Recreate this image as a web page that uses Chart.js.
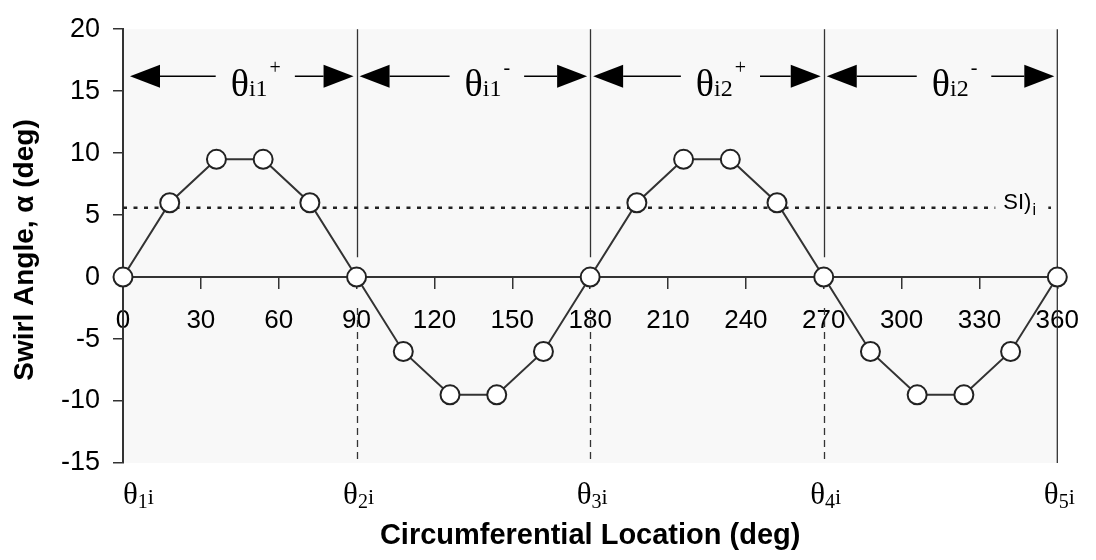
<!DOCTYPE html>
<html>
<head>
<meta charset="utf-8">
<script src="https://cdn.jsdelivr.net/npm/chart.js@4.4.1/dist/chart.umd.min.js"></script>
<style>
  html, body { margin: 0; padding: 0; background: #fff; }
  #wrap { width: 1096px; height: 560px; }
</style>
</head>
<body>
<div id="wrap"><canvas id="swirlChart" width="1096" height="560"></canvas></div>
<script>
// measured swirl profile
const locations = [0, 18, 36, 54, 72, 90, 108, 126, 144, 162, 180, 198, 216, 234, 252, 270, 288, 306, 324, 342, 360];
const swirlAngles = [0, 6, 9.5, 9.5, 6, 0, -6, -9.5, -9.5, -6, 0, 6, 9.5, 9.5, 6, 0, -6, -9.5, -9.5, -6, 0];

const xTickValues = [0, 30, 60, 90, 120, 150, 180, 210, 240, 270, 300, 330, 360];
const yTickValues = [-15, -10, -5, 0, 5, 10, 15, 20];

// sector annotations
const sectorEdges = [0, 90, 180, 270, 360];
const sectorSubs = ['i1', 'i1', 'i2', 'i2'];
const sectorSigns = ['+', '-', '+', '-'];
const edgeSubs = ['1', '2', '3', '4', '5'];
const siLevel = 5.6;
const arrowLevel = 16.2;

const SANS = '"Liberation Sans", Arial, sans-serif';
const SERIF = '"Liberation Serif", "Times New Roman", serif';
const INK = '#333';

function arrowHead(ctx, tipX, y, dir) {
    ctx.beginPath();
    ctx.moveTo(tipX, y);
    ctx.lineTo(tipX - dir * 30, y - 11.5);
    ctx.lineTo(tipX - dir * 30, y + 11.5);
    ctx.closePath();
    ctx.fill();
}

const annotations = {
    id: 'annotations',
    beforeDraw(chart) {
        const { ctx, chartArea: a } = chart;
        ctx.save();
        ctx.fillStyle = '#f8f8f8';
        ctx.fillRect(a.left, a.top, a.right - a.left, a.bottom - a.top);
        ctx.restore();
    },
    beforeDatasetsDraw(chart) {
        const { ctx, chartArea: a, scales: { x, y } } = chart;
        ctx.save();
        ctx.strokeStyle = INK;
        ctx.lineWidth = 1.3;
        // sector dividers: solid above the axis, dashed below
        sectorEdges.slice(1, -1).forEach(v => {
            const px = Math.round(x.getPixelForValue(v)) + 0.5;
            ctx.setLineDash([]);
            ctx.beginPath();
            ctx.moveTo(px, a.top);
            ctx.lineTo(px, y.getPixelForValue(1.6));
            ctx.stroke();
            ctx.setLineDash([7, 5]);
            ctx.beginPath();
            ctx.moveTo(px, y.getPixelForValue(-2.5));
            ctx.lineTo(px, a.bottom);
            ctx.stroke();
        });
        ctx.setLineDash([]);
        ctx.beginPath();
        ctx.moveTo(a.right, a.top);
        ctx.lineTo(a.right, a.bottom);
        ctx.stroke();

        // SI level
        const sy = y.getPixelForValue(siLevel);
        ctx.lineWidth = 2.5;
        ctx.strokeStyle = '#222';
        ctx.setLineDash([4, 6.5]);
        ctx.beginPath();
        ctx.moveTo(a.left, sy);
        ctx.lineTo(a.right - 2, sy);
        ctx.stroke();
        ctx.setLineDash([]);
        ctx.fillStyle = '#f8f8f8';
        ctx.fillRect(a.right - 62, sy - 20, 53, 30);
        ctx.fillStyle = '#000';
        ctx.font = '22px ' + SANS;
        ctx.textBaseline = 'alphabetic';
        ctx.textAlign = 'left';
        const sx = a.right - 54;
        ctx.fillText('SI)', sx, sy + 1);
        const w = ctx.measureText('SI)').width;
        ctx.font = '16px ' + SANS;
        ctx.fillText('i', sx + w + 1, sy + 7);
        ctx.restore();
    },
    afterDraw(chart) {
        const { ctx, chartArea: a, scales: { x, y } } = chart;
        ctx.save();
        ctx.fillStyle = '#000';
        ctx.strokeStyle = '#000';
        ctx.lineWidth = 1.5;
        ctx.textBaseline = 'alphabetic';
        ctx.textAlign = 'left';

        // sector arrows with theta labels
        const ay = y.getPixelForValue(arrowLevel);
        for (let i = 0; i < sectorSubs.length; i++) {
            const x1 = x.getPixelForValue(sectorEdges[i]) + (i === 0 ? 7 : 3);
            const x2 = x.getPixelForValue(sectorEdges[i + 1]) - 3;
            ctx.font = '38px ' + SERIF;
            const wT = ctx.measureText('\u03B8').width;
            ctx.font = '24px ' + SERIF;
            const wS = ctx.measureText(sectorSubs[i]).width;
            ctx.font = '20px ' + SERIF;
            const wP = ctx.measureText(sectorSigns[i]).width;
            const total = wT + wS + 2 + wP;
            const cx = (x1 + x2) / 2 + 14;
            const tx = cx - total / 2;

            arrowHead(ctx, x1, ay, -1);
            arrowHead(ctx, x2, ay, 1);
            ctx.beginPath();
            ctx.moveTo(x1 + 30, ay);
            ctx.lineTo(tx - 15, ay);
            ctx.moveTo(tx + total + 14, ay);
            ctx.lineTo(x2 - 30, ay);
            ctx.stroke();

            const base = ay + 20;
            ctx.font = '38px ' + SERIF;
            ctx.fillText('\u03B8', tx, base);
            ctx.font = '24px ' + SERIF;
            ctx.fillText(sectorSubs[i], tx + wT, base);
            ctx.font = '20px ' + SERIF;
            ctx.fillText(sectorSigns[i], tx + wT + wS + 2, ay - 2);
        }

        // boundary labels below the plot
        const by = a.bottom + 41;
        edgeSubs.forEach((s, i) => {
            ctx.font = '31px ' + SERIF;
            const wT = ctx.measureText('\u03B8').width;
            ctx.font = '20px ' + SERIF;
            const wS = ctx.measureText(s).width;
            ctx.font = '22px ' + SERIF;
            const wI = ctx.measureText('i').width;
            const total = wT + wS + wI;
            let lx = x.getPixelForValue(sectorEdges[i]) + 2 - total / 2;
            if (lx < a.left) lx = a.left;
            ctx.font = '31px ' + SERIF;
            ctx.fillText('\u03B8', lx, by);
            ctx.font = '20px ' + SERIF;
            ctx.fillText(s, lx + wT, by + 4);
            ctx.font = '22px ' + SERIF;
            ctx.fillText('i', lx + wT + wS, by);
        });

        // axis titles
        ctx.font = 'bold 29px ' + SANS;
        ctx.textAlign = 'center';
        ctx.textBaseline = 'middle';
        ctx.fillText('Circumferential Location (deg)', (a.left + a.right) / 2, 536);
        ctx.font = 'bold 28px ' + SANS;
        ctx.translate(25, 250);
        ctx.rotate(-Math.PI / 2);
        ctx.fillText('Swirl Angle, \u03B1 (deg)', 0, 0);
        ctx.restore();
    }
};

new Chart(document.getElementById('swirlChart'), {
    type: 'line',
    data: {
        datasets: [{
            label: 'Swirl angle',
            data: locations.map((v, i) => ({ x: v, y: swirlAngles[i] })),
            borderColor: INK,
            borderWidth: 2,
            pointRadius: 9.5,
            pointBorderWidth: 2,
            pointBackgroundColor: '#fff',
            pointBorderColor: '#222',
            tension: 0,
            clip: false
        }]
    },
    options: {
        responsive: false,
        devicePixelRatio: 1,
        animation: false,
        layout: { padding: { left: 0, right: 32, top: 20, bottom: 97 } },
        plugins: {
            legend: { display: false },
            tooltip: { enabled: false },
            title: { display: false }
        },
        scales: {
            x: {
                type: 'linear',
                min: 0,
                max: 360,
                position: { y: 0 },
                afterBuildTicks: s => { s.ticks = xTickValues.map(v => ({ value: v })); },
                afterFit: s => { s.height = 0; },
                grid: { drawOnChartArea: false, tickLength: 11, color: INK, lineWidth: 1.5 },
                border: { color: INK, width: 2 },
                ticks: { color: '#000', font: { family: SANS, size: 26 }, padding: 17, maxRotation: 0 }
            },
            y: {
                type: 'linear',
                min: -15,
                max: 20,
                afterBuildTicks: s => { s.ticks = yTickValues.map(v => ({ value: v })); },
                afterFit: s => { s.width = 123; },
                grid: { drawOnChartArea: false, tickLength: 10, color: INK, lineWidth: 1.5 },
                border: { color: INK, width: 2 },
                ticks: { color: '#000', font: { family: SANS, size: 27 }, padding: 13 }
            }
        }
    },
    plugins: [annotations]
});
</script>
</body>
</html>
